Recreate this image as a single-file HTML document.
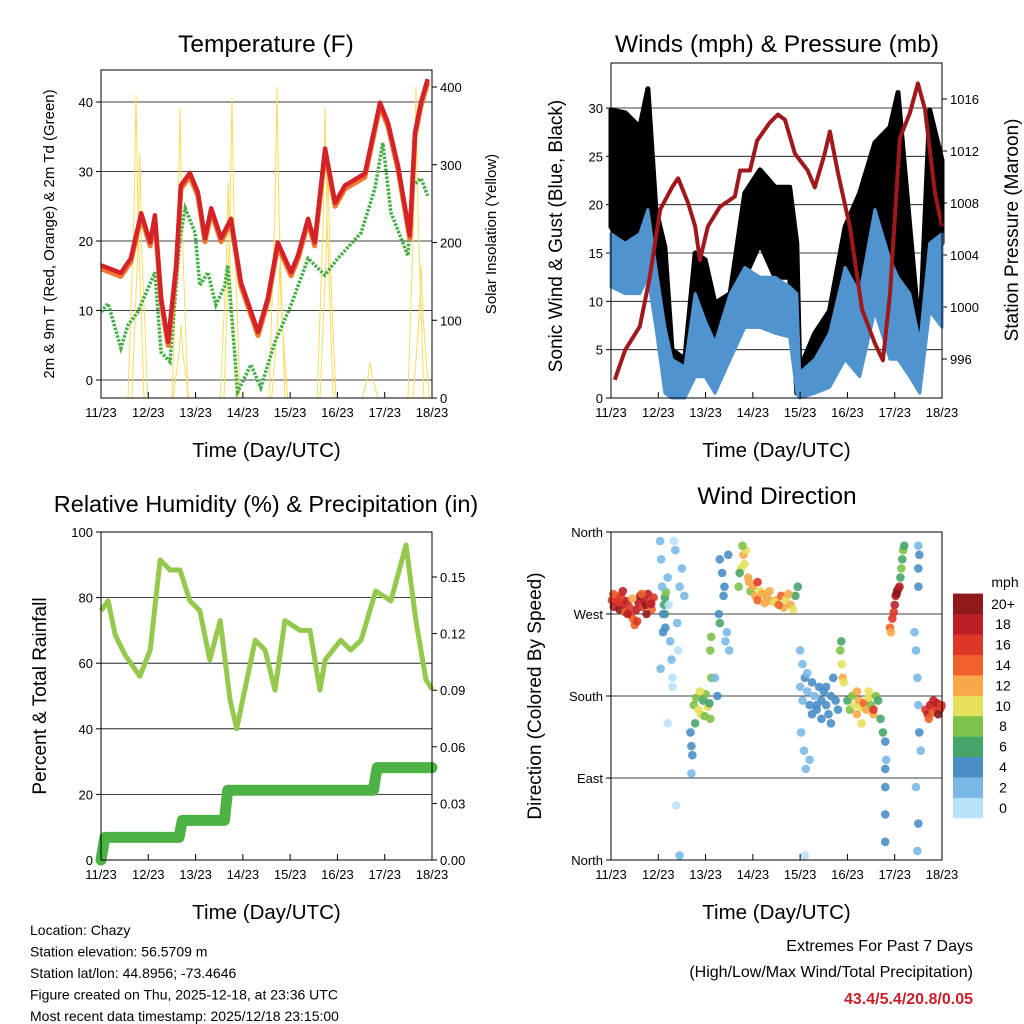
<!DOCTYPE html>
<html><head><meta charset="utf-8"><style>
body{margin:0;background:#fff;}
svg{display:block;font-family:"Liberation Sans",sans-serif;}
</style></head><body>
<svg id="s" width="1024" height="1024" viewBox="0 0 1024 1024">
<defs><clipPath id="c1"><rect x="101" y="70" width="331" height="328"/></clipPath></defs>
<g id="g"></g>
</svg>
<script>
// ---------- Temperature panel data (time in days since 11/23) ----------
const tempT=[0,0.42,0.63,0.85,1.04,1.14,1.27,1.42,1.59,1.69,1.88,2.05,2.2,2.33,2.54,2.75,2.96,3.32,3.53,3.74,4.02,4.17,4.38,4.52,4.74,4.95,5.16,5.58,5.9,6.07,6.28,6.53,6.64,6.77,6.91];
const tempRed=[16.5,15.4,17.5,24,19.8,23.7,11.8,5.5,16.5,28,29.8,27,20.4,24.7,20.4,23.2,14,6.9,11.8,19.8,15.5,18,23.2,19.8,33.3,25.5,28,29.7,39.9,37,30.8,20.8,35.6,40,43.3];
const dewT=[0,0.15,0.42,0.57,0.78,1.14,1.27,1.46,1.67,1.78,1.99,2.09,2.26,2.43,2.62,2.68,2.89,3.17,3.38,3.68,4.02,4.38,4.73,5.01,5.5,5.79,5.96,6.13,6.49,6.6,6.77,6.91];
const dewG=[9.8,11,4.6,7.9,9.8,15.5,4,2.6,20.4,24.7,21.2,13.6,15.5,10.8,13.6,16.5,-1.7,2.2,-1.1,5.5,10.8,17.5,15.1,17.5,21.2,27.5,34.1,24.1,17.9,28,29,26.5];
const solarPeakT=[0.74,0.82,1.69,1.67,2.77,2.69,3.72,3.78,4.74,4.8,5.69,6.66,6.77];
const solarPeakV=[390,315,94,373,386,278,400,171,373,300,46,400,171];
// ---------- Wind panel data ----------
const windT=[0,0.30,0.61,0.78,0.95,1.14,1.29,1.56,1.78,1.99,2.20,2.52,2.83,3.15,3.47,3.78,3.93,3.99,4.31,4.62,4.95,5.26,5.58,5.90,6.07,6.32,6.53,6.74,7.0];
const gustHi=[29.8,29.5,28,32,19.5,15.6,5,4,15,14.3,9.8,10.8,21.2,23.6,21.8,21.8,16,3,6.7,9,17.7,21.2,26.4,28,31.6,17.7,6.3,29.8,24.6];
const gustLo=[17.7,15.6,17.7,16,12.5,7.3,0.5,1,7.3,9,4,5.7,12.5,16,12.5,12.5,0.5,0.5,2.6,4,7.3,10.8,12.5,14.3,10.8,7.3,2.2,16,16];
const sustHi=[17,16,17,19.5,13.5,7.3,4,3.2,10.8,8,5.7,10.8,13.5,12.5,12.5,11.5,10.8,2.6,4,6.7,13.5,10.8,19.5,14.3,12.5,10.8,5.7,16,17];
const sustLo=[11.5,10.8,10.8,12.5,7.3,0.5,0,0,2.2,2.2,0.5,4,7.3,7.3,6.7,6.3,0.5,0,0.5,1.1,4,2.2,9,4,4,2.2,0.5,9,7.3];
const presT=[0.08,0.30,0.61,0.82,1.04,1.29,1.42,1.63,1.78,1.88,2.05,2.30,2.62,2.73,2.94,3.09,3.36,3.53,3.68,3.89,4.16,4.31,4.52,4.63,4.80,5.05,5.31,5.58,5.75,5.90,6.11,6.32,6.49,6.64,6.85,7.0];
const presV=[994.4,996.7,998.5,1002.3,1007.5,1009.2,1009.9,1008,1006.2,1003.6,1006.2,1007.7,1008.5,1010.5,1010.5,1012.8,1014.2,1014.8,1014.4,1011.8,1010.5,1009.2,1011.8,1013.5,1010.3,1006.2,999.8,997.2,995.9,1001,1013,1014.9,1017.2,1015.2,1008.8,1006.2];
// ---------- RH / precip data ----------
const rhT=[0,0.15,0.30,0.51,0.82,1.04,1.25,1.46,1.67,1.88,2.09,2.30,2.52,2.73,2.87,3.04,3.26,3.47,3.68,3.89,4.21,4.42,4.63,4.74,5.07,5.28,5.50,5.81,6.13,6.45,6.66,6.87,7.0];
const rhV=[76,79,68.6,62.5,56,64,91.5,88.4,88.4,79,76,61,73,48.8,40,51.8,67,64,51.8,73,70,70,51.8,61,67,64,67,82,79,96,73,55,52];
const pcpT=[0,0.08,1.65,1.72,2.61,2.68,5.76,5.84,7.0];
const pcpV=[0,0.012,0.012,0.021,0.021,0.037,0.037,0.049,0.049];
// ---------- Wind direction points ----------
const dirT=[0.02,0.06,0.1,0.14,0.18,0.22,0.26,0.3,0.34,0.38,0.42,0.46,0.5,0.54,0.58,0.62,0.66,0.7,0.74,0.78,0.82,0.86,0.9,0.05,0.15,0.25,0.35,0.45,0.55,0.65,0.75,0.85,
1.12,1.14,1.16,1.14,
1.04,1.06,1.08,1.1,1.2,1.22,1.25,1.28,1.3,1.33,1.36,1.4,1.42,1.45,1.5,1.55,1.05,1.3,1.45,1.2,1.38,1.1,1.15,
1.75,1.8,1.85,1.9,1.95,2.0,2.05,2.1,1.78,1.88,1.98,2.08,2.12,2.1,2.12,
1.68,1.7,1.72,1.7,
2.3,2.35,2.4,2.45,2.5,2.28,2.38,2.48,2.3,2.42,2.2,2.25,
2.7,2.75,2.8,2.85,2.9,2.95,2.72,2.82,2.92,2.78,
3.0,3.05,3.1,3.15,3.2,3.3,3.4,3.5,3.6,3.7,3.8,3.85,3.9,3.95,3.25,3.45,3.65,3.75,3.1,3.35,3.55,
4.0,4.05,4.1,4.15,4.2,4.25,4.3,4.35,4.4,4.45,4.5,4.55,4.6,4.65,4.7,4.75,4.8,4.05,4.15,4.25,4.35,4.45,4.55,4.65,4.02,4.08,4.12,4.0,4.1,4.2,
4.85,4.88,4.9,4.92,4.87,
5.0,5.05,5.1,5.15,5.2,5.25,5.3,5.35,5.4,5.45,5.5,5.55,5.6,5.65,5.7,5.75,5.2,5.3,5.45,5.55,
5.8,5.8,5.8,5.8,5.8,5.82,
5.9,5.95,6.0,6.02,6.05,6.08,6.1,5.92,5.98,6.04,
6.12,6.14,6.16,6.18,6.2,
6.5,6.5,6.52,6.5,
6.42,6.45,6.48,6.5,6.52,6.55,6.45,6.5,6.48,
6.65,6.7,6.75,6.8,6.85,6.9,6.95,6.99,6.72,6.82,6.92,6.98];
const dirV=[285,278,290,282,275,288,280,272,284,278,270,265,258,275,283,290,278,285,280,292,283,275,288,292,283,295,270,287,262,292,270,281,
280,288,294,270,
350,330,300,250,310,280,240,220,200,350,340,260,230,300,320,290,210,190,5,150,60,270,255,
170,178,165,160,175,182,168,155,150,185,158,172,200,230,245,
140,125,115,95,
330,315,300,250,230,270,290,335,260,240,200,180,
300,320,335,340,310,295,315,325,305,345,
300,290,285,295,292,288,284,285,290,286,280,275,290,300,282,283,277,292,305,295,280,
190,175,200,185,170,195,180,165,190,175,185,170,160,180,200,175,165,215,205,160,170,155,190,150,140,120,100,230,5,110,
230,215,200,195,240,
175,165,180,170,160,175,168,172,165,178,170,160,180,175,155,140,185,150,185,165,
130,100,80,50,20,110,
255,265,280,290,295,298,300,250,272,292,
310,320,330,340,345,
300,320,335,345,
250,230,200,170,140,120,80,40,10,
165,160,170,162,168,172,165,170,155,175,160,168];
const dirS=[16,18,15,17,19,16,18,14,17,15,16,14,13,18,17,20,16,18,21,17,15,14,16,14,16,17,18,12,15,14,19,17,
6,6,7,5,
2,2,1,3,1,0,1,2,0,0,1,2,0,1,1,2,2,0,1,0,0,4,4,
8,7,10,9,6,8,9,7,6,10,8,6,8,7,8,
4,4,3,2,
3,4,4,2,2,4,3,4,6,2,2,3,
8,10,11,9,12,8,6,10,12,8,
12,12,13,10,12,11,12,12,13,10,11,10,6,6,12,10,12,12,15,12,13,
2,2,3,2,3,3,2,4,3,4,3,4,4,3,4,3,4,2,2,3,4,4,3,4,1,1,1,2,0,1,
8,10,12,9,6,
6,8,7,10,11,12,9,14,12,10,8,11,7,6,6,5,12,10,9,16,
3,4,3,3,4,2,
14,16,18,17,20,21,18,12,16,19,
6,7,6,7,6,
4,4,3,2,
1,2,1,2,3,2,1,4,2,
16,18,17,14,16,18,15,16,14,17,19,16];
// ---------- tick labels ----------
const xTicks=['11/23','12/23','13/23','14/23','15/23','16/23','17/23','18/23'];
const tempTicks=[0,10,20,30,40];
const solarTicks=[0,100,200,300,400];
const windTicks=[0,5,10,15,20,25,30];
const presTicks=[996,1000,1004,1008,1012,1016];
const rhTicks=[0,20,40,60,80,100];
const pcpTicks=['0.00','0.03','0.06','0.09','0.12','0.15'];
const dirTicks=['North','East','South','West','North'];
const cbLabels=['0','2','4','6','8','10','12','14','16','18','20+'];
const cbColors=['#b7e2f8','#7ab9e6','#4a8fc8','#47a56a','#7dc24a','#e6e05a','#f8a848','#f0622b','#dd3727','#bd1f26','#8e1a1c'];

const NS='http://www.w3.org/2000/svg';
const G=document.getElementById('g');
function mk(tag,at,parent){const e=document.createElementNS(NS,tag);for(const k in at)e.setAttribute(k,at[k]);(parent||G).appendChild(e);return e;}
function txt(x,y,s,size,anchor,extra){const e=mk('text',Object.assign({x:x,y:y,'font-size':size,'text-anchor':anchor||'middle',fill:'#000'},extra||{}));e.textContent=s;return e;}
function lin(a,b,c,d){return v=>c+(v-a)*(d-c)/(b-a);}
function frame(name){
  const g=mk('g',{});
  
  
  return g;
}
function box(L,T,R,B,par){mk('rect',{x:L,y:T,width:R-L,height:B-T,fill:'none',stroke:'#000','stroke-width':1},par);}
function xAxis(L,R,B,par){
  const xs=lin(0,7,L,R);
  for(let i=0;i<xTicks.length;i++){
    const x=xs(i);mk('line',{x1:x,y1:B,x2:x,y2:B-6,stroke:'#000'},par);
    const t=txt(x,B+19,xTicks[i],13,'middle');
    
    
  }
  const tt=txt((L+R)/2,B+59,'Time (Day/UTC)',20.5,'middle');
  
  
}
function pathD(xs,ys,X,Y){let d='';for(let i=0;i<X.length;i++)d+=(i?'L':'M')+xs(X[i]).toFixed(1)+','+ys(Y[i]).toFixed(1);return d;}

// ===== Panel 1: Temperature =====
(function(){
  const L=101,T=70,R=432,B=398;const p=frame('temperature-panel');
  const ys=lin(0,40,380,102), ys2=lin(0,400,398,87);
  const xs=lin(0,7,L,R);
  tempTicks.forEach(v=>{const y=ys(v);mk('line',{x1:L,y1:y,x2:R,y2:y,stroke:'#000','stroke-width':0.8},p);mk('line',{x1:L-5,y1:y,x2:L,y2:y,stroke:'#000'},p);
    const t=txt(L-8,y+5,String(v),13,'end');});
  solarTicks.forEach(v=>{const y=ys2(v);mk('line',{x1:R,y1:y,x2:R+5,y2:y,stroke:'#000'},p);
    const t=txt(R+8,y+5,String(v),13,'start');});
  const cg=mk('g',{'clip-path':'url(#c1)'},p);
  for(let i=0;i<solarPeakT.length;i++){
    const x=xs(solarPeakT[i]);
    const s=mk('polyline',{points:(x-8)+','+ys2(0)+' '+(x-2)+','+ys2(solarPeakV[i]*0.6)+' '+x+','+ys2(solarPeakV[i])+' '+(x+2)+','+ys2(solarPeakV[i]*0.6)+' '+(x+8)+','+ys2(0),fill:'none',stroke:'#f9dc5c','stroke-width':1},cg);
    
  }
  const dg=mk('path',{d:pathD(xs,ys,dewT,dewG),fill:'none',stroke:'#44ad45','stroke-width':3.5,'stroke-dasharray':'2.5 1.5'},cg);
  
  const o=mk('path',{d:pathD(xs,ys,tempT,tempRed.map(v=>v-0.5)),fill:'none',stroke:'#f07a30','stroke-width':5,'stroke-linejoin':'round'},cg);
  
  const r=mk('path',{d:pathD(xs,ys,tempT,tempRed),fill:'none',stroke:'#d42228','stroke-width':4.5,'stroke-linejoin':'round'},cg);
  
  box(L,T,R,B,p);xAxis(L,R,B,p);
  const t=txt(266,52,'Temperature (F)',24.5,'middle');
  const a=txt(0,0,'2m & 9m T (Red, Orange) & 2m Td (Green)',15,'middle',{transform:'translate(54,234) rotate(-90)'});
  const b=txt(0,0,'Solar Insolation (Yellow)',15,'middle',{transform:'translate(496,234) rotate(-90)'});
})();

// ===== Panel 2: Winds & Pressure =====
(function(){
  const L=611,T=63,R=942,B=398;const p=frame('winds-panel');
  const ys=lin(0,30,398,108), ys2=lin(996,1016,359,99);
  const xs=lin(0,7,L,R);
  windTicks.forEach(v=>{const y=ys(v);if(v>0)mk('line',{x1:L,y1:y,x2:R,y2:y,stroke:'#000','stroke-width':0.8},p);mk('line',{x1:L-5,y1:y,x2:L,y2:y,stroke:'#000'},p);
    const t=txt(L-8,y+5,String(v),13,'end');});
  presTicks.forEach(v=>{const y=ys2(v);mk('line',{x1:R,y1:y,x2:R+5,y2:y,stroke:'#000'},p);
    const t=txt(R+8,y+5,String(v),13,'start');});
  function band(hi,lo,col,name,w){
    let d='M'+xs(windT[0]).toFixed(1)+','+ys(hi[0]).toFixed(1);
    for(let i=1;i<windT.length;i++)d+='L'+xs(windT[i]).toFixed(1)+','+ys(hi[i]).toFixed(1);
    for(let i=windT.length-1;i>=0;i--)d+='L'+xs(windT[i]).toFixed(1)+','+ys(lo[i]).toFixed(1);
    const e=mk('path',{d:d+'Z',fill:col,stroke:col,'stroke-width':w,'stroke-linejoin':'round'},p);
    
  }
  band(gustHi,gustLo,'#000','gust-band',5);
  band(sustHi,sustLo,'#4f93cf','sonic-wind-band',3);
  const pr=mk('path',{d:pathD(xs,ys2,presT,presV),fill:'none',stroke:'#a0181c','stroke-width':4,'stroke-linejoin':'round'},p);
  
  box(L,T,R,B,p);xAxis(L,R,B,p);
  const t=txt(777,52,'Winds (mph) & Pressure (mb)',24.5,'middle');
  const a=txt(0,0,'Sonic Wind & Gust (Blue, Black)',19,'middle',{transform:'translate(562,236) rotate(-90)'});
  const b=txt(0,0,'Station Pressure (Maroon)',19,'middle',{transform:'translate(1018,230) rotate(-90)'});
})();

// ===== Panel 3: RH & Precip =====
(function(){
  const L=101,T=532,R=432,B=860;const p=frame('humidity-panel');
  const ys=lin(0,100,860,532), ys2=lin(0,0.15,860,577);
  const xs=lin(0,7,L,R);
  rhTicks.forEach(v=>{const y=ys(v);if(v>0&&v<100)mk('line',{x1:L,y1:y,x2:R,y2:y,stroke:'#000','stroke-width':0.8},p);mk('line',{x1:L-5,y1:y,x2:L,y2:y,stroke:'#000'},p);
    const t=txt(L-8,y+5,String(v),13,'end');});
  pcpTicks.forEach(v=>{const y=ys2(parseFloat(v));mk('line',{x1:R,y1:y,x2:R+5,y2:y,stroke:'#000'},p);
    const t=txt(R+8,y+5,v,13,'start');});
  const rh=mk('path',{d:pathD(xs,ys,rhT,rhV),fill:'none',stroke:'#94c94e','stroke-width':5,'stroke-linejoin':'round'},p);
  
  const pc=mk('path',{d:pathD(xs,ys2,pcpT,pcpV),fill:'none',stroke:'#4db244','stroke-width':11,'stroke-linejoin':'round','stroke-linecap':'round'},p);
  
  box(L,T,R,B,p);xAxis(L,R,B,p);
  const t=txt(266,512,'Relative Humidity (%) & Precipitation (in)',23.5,'middle');
  const a=txt(0,0,'Percent & Total Rainfall',19,'middle',{transform:'translate(46,696) rotate(-90)'});
})();

// ===== Panel 4: Wind Direction =====
(function(){
  const L=611,T=532,R=942,B=860;const p=frame('wind-direction-panel');
  const ys=lin(0,360,860,532);
  const xs=lin(0,7,L,R);
  dirTicks.forEach((v,i)=>{const y=ys(i*90);if(i>0&&i<4)mk('line',{x1:L,y1:y,x2:R,y2:y,stroke:'#000','stroke-width':0.8},p);mk('line',{x1:L-5,y1:y,x2:L,y2:y,stroke:'#000'},p);
    const t=txt(L-8,y+5,v,13,'end');});
  function col(s){let i=Math.min(10,Math.max(0,Math.floor((s+1)/2)));return cbColors[i];}
  for(let i=0;i<dirT.length;i++){
    const c=mk('circle',{cx:xs(dirT[i]),cy:ys(dirV[i]),r:4.3,fill:col(dirS[i]),'fill-opacity':0.9},p);
    
  }
  box(L,T,R,B,p);xAxis(L,R,B,p);
  const t=txt(777,504,'Wind Direction',24.5,'middle');
  const a=txt(0,0,'Direction (Colored By Speed)',19,'middle',{transform:'translate(541,696) rotate(-90)'});
  const cb=mk('g',{},p);
  const h=20.4;
  for(let i=0;i<cbColors.length;i++){
    const y=818-(i+1)*h;
    mk('rect',{x:953,y:y,width:30,height:h+0.3,fill:cbColors[i]},cb);
    const l=txt(1003,y+h/2+5,cbLabels[i],14,'middle');
  }
  const m=txt(1005,587,'mph',14,'middle');
})();

// ===== Footer text =====
['Location: Chazy','Station elevation: 56.5709 m','Station lat/lon: 44.8956; -73.4646','Figure created on Thu, 2025-12-18, at 23:36 UTC','Most recent data timestamp: 2025/12/18 23:15:00'].forEach((s,i)=>{
  const t=txt(30,935+i*21.5,s,14,'start');});
const e1=txt(973,951,'Extremes For Past 7 Days',16,'end');
const e2=txt(973,977,'(High/Low/Max Wind/Total Precipitation)',16,'end');
const e3=txt(973,1004,'43.4/5.4/20.8/0.05',16,'end',{fill:'#c8202a','font-weight':'bold'});
</script>
</body></html>
